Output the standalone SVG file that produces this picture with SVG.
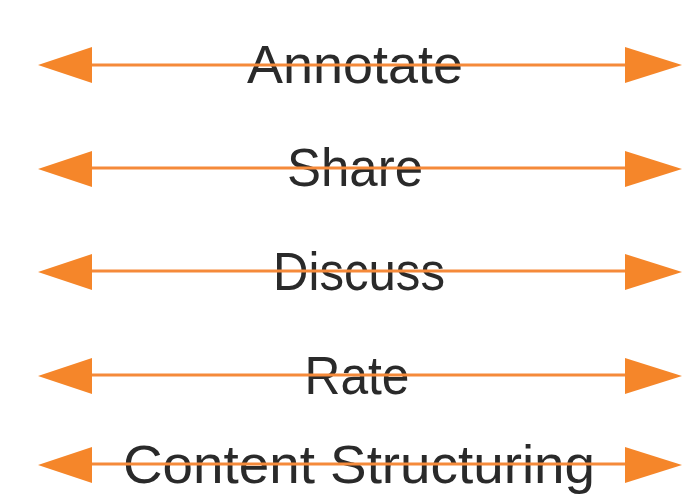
<svg xmlns="http://www.w3.org/2000/svg" width="688" height="498" viewBox="0 0 688 498">
<style>
.ln{stroke:#F58A3A;stroke-width:3;fill:none}
.hd{fill:#F5862A}
.lb{font-family:"Liberation Sans",Arial,sans-serif;font-size:53px;fill:#2a2a2a;text-anchor:middle}
</style>
<rect width="688" height="498" fill="#fff"/>
<g id="labels">
<g id="n-annotate"><text class="lb" x="355" y="83" textLength="216" lengthAdjust="spacingAndGlyphs">Annotate</text></g>
<g id="n-share"><text class="lb" x="355" y="186" textLength="136" lengthAdjust="spacingAndGlyphs">Share</text></g>
<g id="n-discuss"><text class="lb" x="359" y="290" textLength="172" lengthAdjust="spacingAndGlyphs">Discuss</text></g>
<g id="n-rate"><text class="lb" x="357" y="394" textLength="105" lengthAdjust="spacingAndGlyphs">Rate</text></g>
<g id="n-content"><text class="lb" x="359" y="483" textLength="472" lengthAdjust="spacingAndGlyphs">Content Structuring</text></g>
</g>
<g id="connectors">
<g id="e1"><line class="ln" x1="90" y1="65" x2="627" y2="65"/><polygon class="hd" points="38,65 92,47 92,83"/><polygon class="hd" points="682,65 625,47 625,83"/></g>
<g id="e2"><line class="ln" x1="90" y1="168" x2="627" y2="168"/><polygon class="hd" points="38,169 92,151 92,187"/><polygon class="hd" points="682,169 625,151 625,187"/></g>
<g id="e3"><line class="ln" x1="90" y1="271" x2="627" y2="271"/><polygon class="hd" points="38,272 92,254 92,290"/><polygon class="hd" points="682,272 625,254 625,290"/></g>
<g id="e4"><line class="ln" x1="90" y1="375" x2="627" y2="375"/><polygon class="hd" points="38,376 92,358 92,394"/><polygon class="hd" points="682,376 625,358 625,394"/></g>
<g id="e5"><line class="ln" x1="90" y1="464" x2="627" y2="464"/><polygon class="hd" points="38,465 92,447 92,483"/><polygon class="hd" points="682,465 625,447 625,483"/></g>
</g>
</svg>
